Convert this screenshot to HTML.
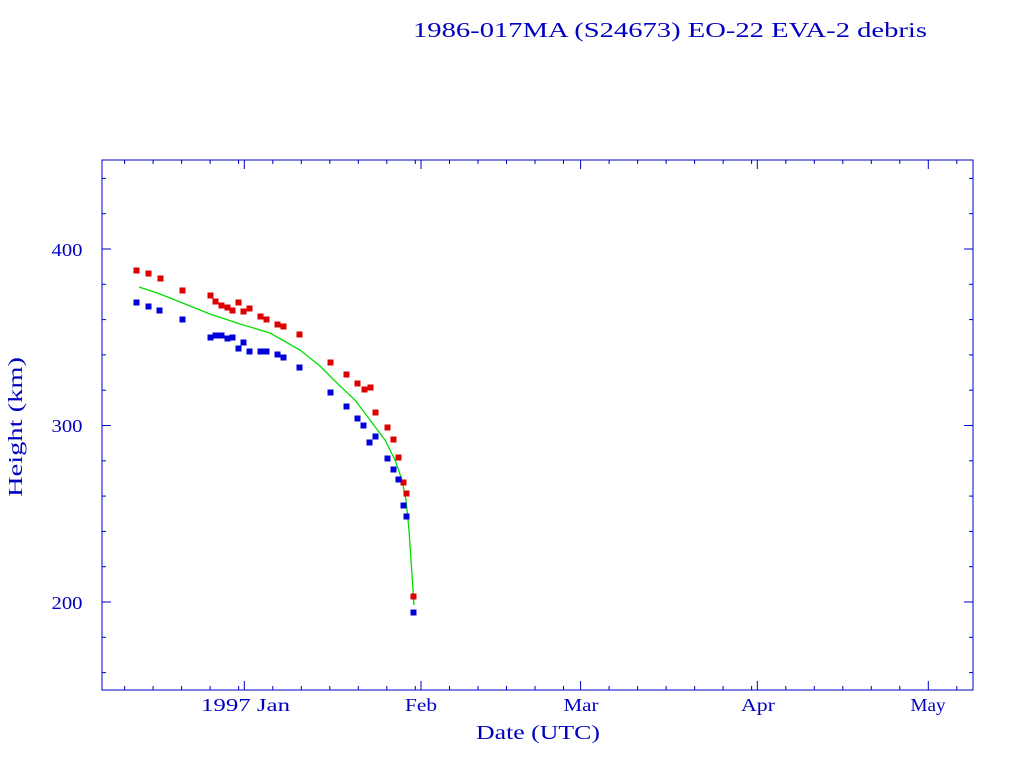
<!DOCTYPE html>
<html><head><meta charset="utf-8"><style>html,body{margin:0;padding:0;background:#fff}svg{display:block}</style></head><body>
<svg width="1024" height="768" xmlns="http://www.w3.org/2000/svg" font-family="Liberation Serif, serif" fill="#0000c0">
<text x="670" y="37" font-size="21" text-anchor="middle" textLength="514" lengthAdjust="spacingAndGlyphs">1986-017MA (S24673) EO-22 EVA-2 debris</text>
<rect x="102" y="160" width="871" height="530" fill="none" stroke="#0000c0" stroke-width="1"/>
<g stroke="#0000c0" stroke-width="1" id="ticks"></g>
<g font-size="18" text-anchor="middle">
<text x="245.5" y="711" textLength="89" lengthAdjust="spacingAndGlyphs">1997 Jan</text>
<text x="421" y="711" textLength="32" lengthAdjust="spacingAndGlyphs">Feb</text>
<text x="581" y="711" textLength="35" lengthAdjust="spacingAndGlyphs">Mar</text>
<text x="758" y="711" textLength="34" lengthAdjust="spacingAndGlyphs">Apr</text>
<text x="928" y="711" textLength="35" lengthAdjust="spacingAndGlyphs">May</text>
<text x="538" y="739" font-size="20" textLength="124" lengthAdjust="spacingAndGlyphs">Date (UTC)</text>
</g>
<g font-size="18" text-anchor="middle">
<text x="67" y="256" textLength="31" lengthAdjust="spacingAndGlyphs">400</text>
<text x="67" y="432" textLength="31" lengthAdjust="spacingAndGlyphs">300</text>
<text x="67" y="609" textLength="31" lengthAdjust="spacingAndGlyphs">200</text>
</g>
<text transform="translate(22,427) rotate(-90)" font-size="20" text-anchor="middle" textLength="140" lengthAdjust="spacingAndGlyphs">Height (km)</text>
<polyline fill="none" stroke="#00dd00" stroke-width="1.3" points="139,287 160,294 185,304 210,314 240,324 270,333 300,350 320,366 340,386 355,400 370,420 385,440 395,460 402,480 406,500 409,530 411,560 413,590 414,605"/>
<g id="pts"></g>
</svg>
<script>
var ns="http://www.w3.org/2000/svg",t=document.getElementById("ticks"),p=document.getElementById("pts");
function L(a,b,c,d){var l=document.createElementNS(ns,"line");l.setAttribute("x1",a);l.setAttribute("y1",b);l.setAttribute("x2",c);l.setAttribute("y2",d);t.appendChild(l);}
var j=244.3,k=5.7;
var months=[-31,0,31,59,90,120];
for(var m=0;m<months.length;m++){for(var d=0;d<31;d+=5){var x=j+(months[m]+d)*k;if(x<=103||x>=972)continue;if(m+1<months.length&&months[m]+d>=months[m+1])continue;var len=d==0?9:4;L(x,690,x,690-len);L(x,160,x,160+len);}}
for(var h=160;h<=440;h+=20){var y=249+(400-h)*1.765;var len=h%100==0?9:4;L(102,y,102+len,y);L(973,y,973-len,y);}
var red=[[137,271],[149,274],[161,279],[183,291],[211,296],[216,302],[222,306],[228,308],[233,311],[239,303],[244,312],[250,309],[261,317],[267,320],[278,325],[284,327],[300,335],[331,363],[347,375],[358,384],[365,390],[371,388],[376,413],[388,428],[394,440],[399,458],[404,483],[407,494],[414,597]];
var blue=[[137,303],[149,307],[160,311],[183,320],[211,338],[216,336],[222,336],[228,339],[233,338],[239,349],[244,343],[250,352],[261,352],[267,352],[278,355],[284,358],[300,368],[331,393],[347,407],[358,419],[364,426],[370,443],[376,437],[388,459],[394,470],[399,480],[404,506],[407,517],[414,613]];
function S(a,c){a.forEach(function(q){var r=document.createElementNS(ns,"rect");r.setAttribute("x",q[0]-3);r.setAttribute("y",q[1]-3);r.setAttribute("width",5);r.setAttribute("height",5);r.setAttribute("fill",c);r.setAttribute("stroke",c);p.appendChild(r);});}
S(red,"#dd0000");S(blue,"#0000dd");
</script>
</body></html>
